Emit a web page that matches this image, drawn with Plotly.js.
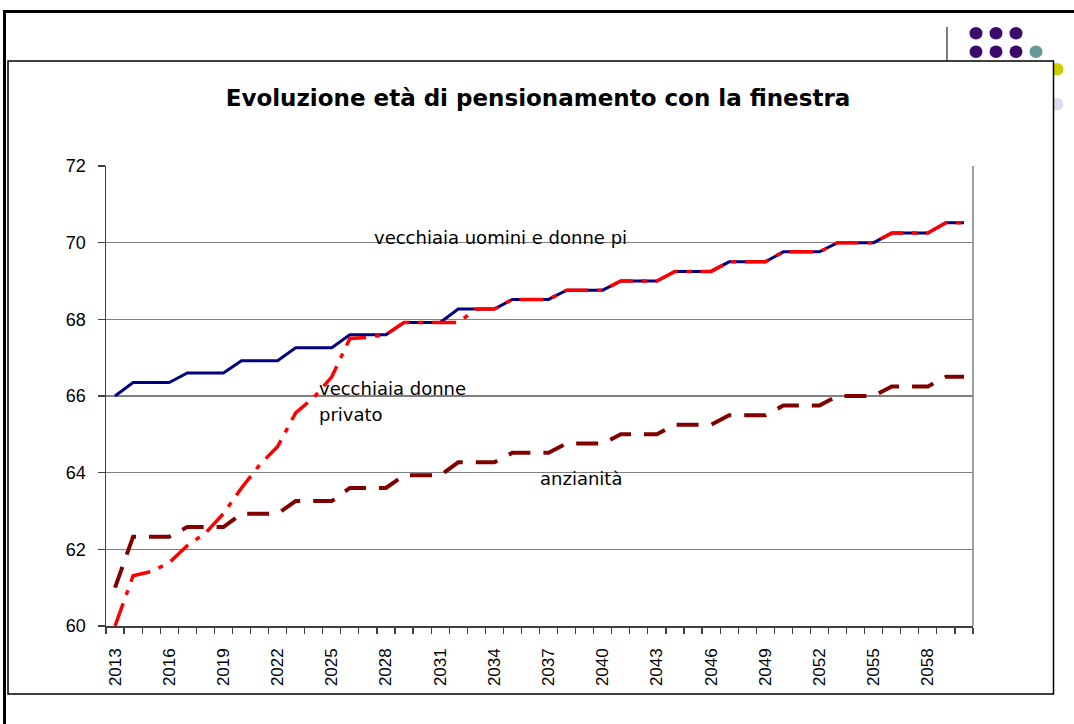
<!DOCTYPE html>
<html>
<head>
<meta charset="utf-8">
<script src="https://cdn.plot.ly/plotly-3.0.1.min.js"></script>
<style>
html,body{margin:0;padding:0;background:#fff;}
#chart{width:1074px;height:724px;}
</style>
</head>
<body>
<div id="chart"></div>
<script>
// ---- data ----
const years = [2013,2014,2015,2016,2017,2018,2019,2020,2021,2022,2023,2024,2025,2026,2027,2028,
  2029,2030,2031,2032,2033,2034,2035,2036,2037,2038,2039,2040,2041,2042,2043,2044,2045,2046,
  2047,2048,2049,2050,2051,2052,2053,2054,2055,2056,2057,2058,2059,2060];

const vecchiaiaUominiDonne = [66.0,66.35,66.35,66.35,66.6,66.6,66.6,66.92,66.92,66.92,67.26,67.26,67.26,
  67.6,67.6,67.6,67.92,67.92,67.92,68.27,68.27,68.27,68.52,68.52,68.52,68.76,68.76,68.76,
  69.0,69.0,69.0,69.25,69.25,69.25,69.5,69.5,69.5,69.76,69.76,69.76,70.0,70.0,70.0,
  70.25,70.25,70.25,70.52,70.52];

const vecchiaiaDonnePrivato = [60.0,61.31,61.42,61.65,62.1,62.42,62.93,63.6,64.2,64.68,65.56,65.96,66.5,
  67.5,67.53,67.6,67.92,67.92,67.92,67.92,68.27,68.27,68.52,68.52,68.52,68.76,68.76,68.76,
  69.0,69.0,69.0,69.25,69.25,69.25,69.5,69.5,69.5,69.76,69.76,69.76,70.0,70.0,70.0,
  70.25,70.25,70.25,70.52,70.52];

const anzianita = [61.0,62.33,62.33,62.33,62.58,62.58,62.58,62.93,62.93,62.93,63.26,63.26,63.26,
  63.6,63.6,63.6,63.93,63.93,63.93,64.27,64.27,64.27,64.52,64.52,64.52,64.76,64.76,64.76,
  65.0,65.0,65.0,65.25,65.25,65.25,65.5,65.5,65.5,65.75,65.75,65.75,66.0,66.0,66.0,
  66.25,66.25,66.25,66.5,66.5];

const xTickYears = [2013,2016,2019,2022,2025,2028,2031,2034,2037,2040,2043,2046,2049,2052,2055,2058];
const xTickLabels = ["2013","2016","2019","2022","2025","2028","2031","2034","2037","2040","2043","2046","2049","2052","2055","2058"];
const yTickVals = [60,62,64,66,68,70,72];

const titleText = "Evoluzione età di pensionamento con la finestra";

// ---- layout helpers (pixel -> paper) ----
const L = 106, R = 101, T = 166, B = 98, W = 1074, H = 724;
const pw = W - L - R, ph = H - T - B;
const px = p => (p - L) / pw;
const py = p => (H - B - p) / ph;

const traces = [
  {x: years, y: vecchiaiaUominiDonne, type: 'scatter', mode: 'lines', name: 'vecchiaia uomini e donne pi',
   line: {color: '#000080', width: 3}},
  {x: years, y: vecchiaiaDonnePrivato, type: 'scatter', mode: 'lines', name: 'vecchiaia donne privato',
   line: {color: '#FF0000', width: 3.5, dash: '24px,9px,5px,9px'}},
  {x: years, y: anzianita, type: 'scatter', mode: 'lines', name: 'anzianità',
   line: {color: '#800000', width: 4, dash: '22px,13px'}}
];

const annFont = {family: 'DejaVu Sans', size: 18, color: '#000'};
const shapes = [
  // outer slide frame
  {type: 'line', xref: 'paper', yref: 'paper', x0: px(3), x1: px(1074), y0: py(11.5), y1: py(11.5), line: {color: '#000', width: 3}, layer: 'below'},
  {type: 'line', xref: 'paper', yref: 'paper', x0: px(4.5), x1: px(4.5), y0: py(10), y1: py(724), line: {color: '#000', width: 3}, layer: 'below'},
  // gray vertical rule
  {type: 'line', xref: 'paper', yref: 'paper', x0: px(947), x1: px(947), y0: py(27), y1: py(61), line: {color: '#555', width: 1.5}, layer: 'below'},
  // decorative dots
  {type: 'circle', xref: 'paper', yref: 'paper', x0: px(969.5), x1: px(982.5), y0: py(27), y1: py(39.5), fillcolor: '#3B0A6B', line: {width: 0}, layer: 'below'},
  {type: 'circle', xref: 'paper', yref: 'paper', x0: px(989.5), x1: px(1002.5), y0: py(27), y1: py(39.5), fillcolor: '#3B0A6B', line: {width: 0}, layer: 'below'},
  {type: 'circle', xref: 'paper', yref: 'paper', x0: px(1009.5), x1: px(1022.5), y0: py(27), y1: py(39.5), fillcolor: '#3B0A6B', line: {width: 0}, layer: 'below'},
  {type: 'circle', xref: 'paper', yref: 'paper', x0: px(969.5), x1: px(982.5), y0: py(45.5), y1: py(58), fillcolor: '#3B0A6B', line: {width: 0}, layer: 'below'},
  {type: 'circle', xref: 'paper', yref: 'paper', x0: px(989.5), x1: px(1002.5), y0: py(45.5), y1: py(58), fillcolor: '#3B0A6B', line: {width: 0}, layer: 'below'},
  {type: 'circle', xref: 'paper', yref: 'paper', x0: px(1009.5), x1: px(1022.5), y0: py(45.5), y1: py(58), fillcolor: '#3B0A6B', line: {width: 0}, layer: 'below'},
  {type: 'circle', xref: 'paper', yref: 'paper', x0: px(1029.5), x1: px(1042.5), y0: py(45.5), y1: py(58), fillcolor: '#669999', line: {width: 0}, layer: 'below'},
  {type: 'circle', xref: 'paper', yref: 'paper', x0: px(1050.5), x1: px(1063.5), y0: py(63), y1: py(75.5), fillcolor: '#CCCC00', line: {width: 0}, layer: 'below'},
  {type: 'circle', xref: 'paper', yref: 'paper', x0: px(1050.5), x1: px(1063.5), y0: py(98), y1: py(110.5), fillcolor: '#DCDCF0', line: {width: 0}, layer: 'below'},
  // inner chart box
  {type: 'rect', xref: 'paper', yref: 'paper', x0: px(8), x1: px(1053.5), y0: py(61), y1: py(694), fillcolor: '#FFFFFF', line: {color: '#000', width: 1.5}, layer: 'below'},
  // right plot border
  {type: 'line', xref: 'paper', yref: 'paper', x0: 1, x1: 1, y0: 0, y1: 1, line: {color: '#808080', width: 1.5}, layer: 'above'}
];

const layout = {
  width: W, height: H,
  margin: {l: L, r: R, t: T, b: B, pad: 0},
  paper_bgcolor: '#FFFFFF',
  plot_bgcolor: 'rgba(0,0,0,0)',
  showlegend: false,
  title: {text: '<b>' + titleText + '</b>', x: 538 / W, xanchor: 'center', xref: 'container',
          y: 1 - 98 / H, yanchor: 'middle', yref: 'container',
          font: {family: 'DejaVu Sans', size: 23, color: '#000'}},
  xaxis: {
    type: 'linear', range: [2012.5, 2060.5], fixedrange: true,
    tickmode: 'array', tickvals: xTickYears, ticktext: xTickLabels,
    tickangle: -90, ticks: '', ticklabelstandoff: 14,
    tickfont: {family: 'Liberation Sans, Arial', size: 17, color: '#000'},
    showgrid: false, zeroline: false,
    showline: true, linecolor: '#404040', linewidth: 1.5,
    minor: {tickmode: 'linear', tick0: 2012.5, dtick: 1, ticks: 'outside', ticklen: 6, tickcolor: '#404040', tickwidth: 1.2, showgrid: false}
  },
  yaxis: {
    range: [60, 72], fixedrange: true,
    tickmode: 'array', tickvals: yTickVals,
    ticks: 'outside', ticklen: 7, tickcolor: '#404040', tickwidth: 1.2, ticklabelstandoff: 8,
    tickfont: {family: 'Liberation Sans, Arial', size: 18, color: '#000'},
    showgrid: true, gridcolor: '#808080', gridwidth: 1.2,
    zeroline: false, showline: true, linecolor: '#404040', linewidth: 1.5
  },
  shapes: shapes,
  annotations: [
    {xref: 'paper', yref: 'paper', x: px(372), y: py(237), xanchor: 'left', yanchor: 'middle', text: 'vecchiaia uomini e donne pi', showarrow: false, font: annFont},
    {xref: 'paper', yref: 'paper', x: px(317), y: py(388), xanchor: 'left', yanchor: 'middle', text: 'vecchiaia donne', showarrow: false, font: annFont},
    {xref: 'paper', yref: 'paper', x: px(317), y: py(414), xanchor: 'left', yanchor: 'middle', text: 'privato', showarrow: false, font: annFont},
    {xref: 'paper', yref: 'paper', x: px(538), y: py(478), xanchor: 'left', yanchor: 'middle', text: 'anzianità', showarrow: false, font: annFont}
  ]
};

Plotly.newPlot('chart', traces, layout, {displayModeBar: false, staticPlot: true});
</script>
</body>
</html>
